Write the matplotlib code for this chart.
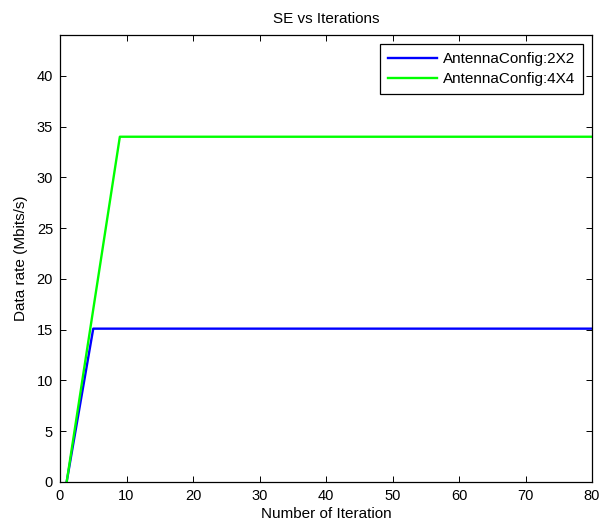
import matplotlib
matplotlib.use('Agg')
import matplotlib.pyplot as plt

plt.rcParams['font.family'] = ['Liberation Sans', 'DejaVu Sans']

iter_2x2 = [1, 5, 80]
rate_2x2 = [0, 15.1, 15.1]
iter_4x4 = [1, 9, 80]
rate_4x4 = [0, 34, 34]

fig = plt.figure(figsize=(6.06, 5.30), dpi=100)
ax = fig.add_axes([0.099, 0.0906, 0.878, 0.843])

ax.plot(iter_2x2, rate_2x2, color='#0000ff', linewidth=1.7, label='AntennaConfig:2X2')
ax.plot(iter_4x4, rate_4x4, color='#00ff00', linewidth=1.7, label='AntennaConfig:4X4')

ax.set_xlim(0, 80)
ax.set_ylim(0, 44)
ax.set_xticks(range(0, 81, 10))
ax.set_yticks(range(0, 41, 5))
ax.tick_params(direction='in', top=True, right=True, labelsize=10.5, length=4.5, width=0.7, pad=5)
for s in ax.spines.values():
    s.set_linewidth(0.9)

ax.set_xlabel('Number of Iteration', fontsize=11, labelpad=3)
ax.set_ylabel('Data rate (Mbits/s)', fontsize=11, labelpad=6)
ax.set_title('SE vs Iterations', fontsize=11, pad=9)

leg = ax.legend(loc='upper right', fontsize=11, fancybox=False, framealpha=1,
                edgecolor='black', handlelength=3.2, borderaxespad=0.6,
                borderpad=0.5, labelspacing=0.4, handletextpad=0.4)
leg.get_frame().set_linewidth(0.9)

fig.savefig('out.png', dpi=100)
